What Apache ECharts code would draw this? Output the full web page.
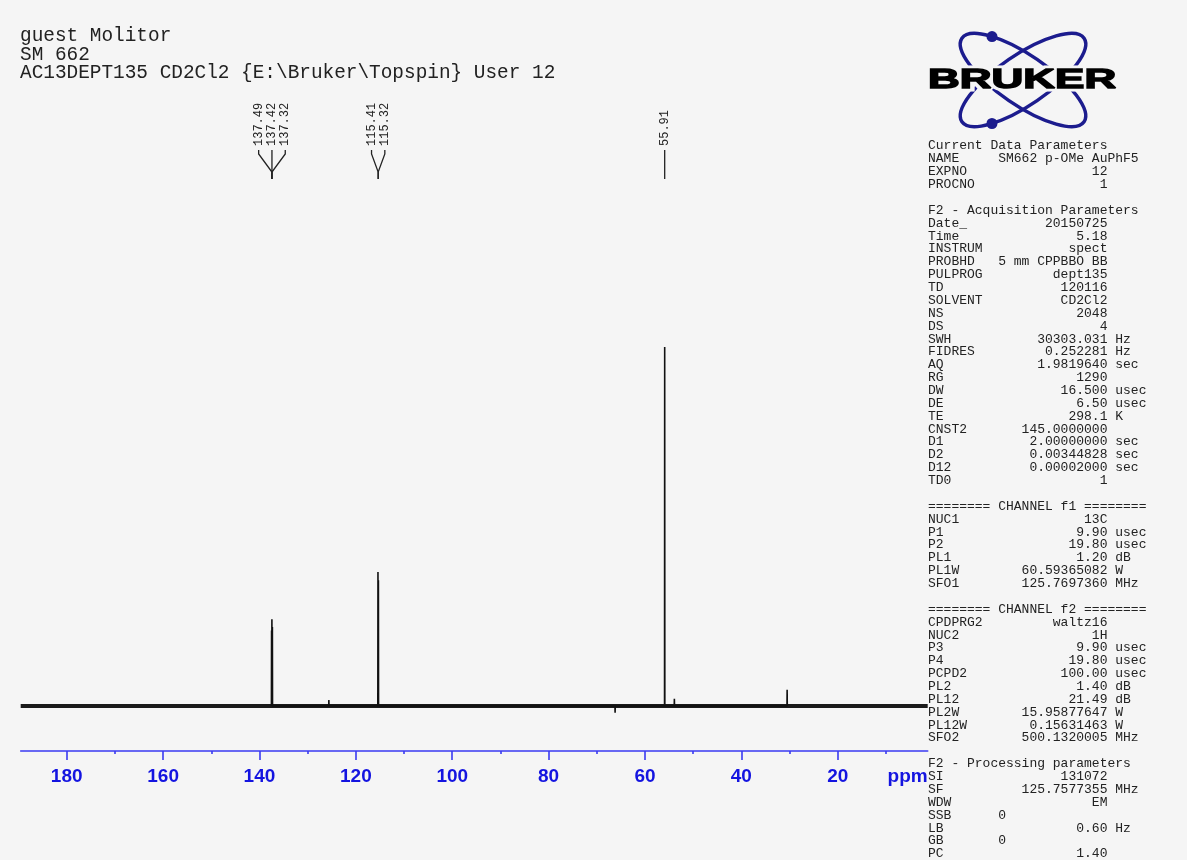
<!DOCTYPE html>
<html><head><meta charset="utf-8">
<script src="https://cdn.jsdelivr.net/npm/echarts@6/dist/echarts.min.js"></script>
<style>html,body{margin:0;padding:0;background:#f5f5f5;}#c{width:1187px;height:860px;}</style>
</head><body><div id="c"></div>
<script>
// ---- data ----
const xMax = 189.55, xMin = 1.33;
const majorTicks = [180, 160, 140, 120, 100, 80, 60, 40, 20];
const minorTicks = [170, 150, 130, 110, 90, 70, 50, 30, 10];
const peakPpm    = [137.49, 137.42, 137.32, 125.6, 115.41, 115.32, 66.2, 55.91, 53.9, 30.5];
const peakHeight = [21, 24.2, 22, 1.7, 37.3, 35, -1.9, 100, 2.0, 4.5];
const labelPpm   = [137.49, 137.42, 137.32, 115.41, 115.32, 55.91];
const headerLines = ['guest Molitor', 'SM 662', 'AC13DEPT135 CD2Cl2 {E:\\Bruker\\Topspin} User 12'];
const paramCurrent = [['NAME','SM662 p-OMe AuPhF5','',1],['EXPNO','12'],['PROCNO','1']];
const paramAcq = [['Date_','20150725'],['Time','5.18'],['INSTRUM','spect'],['PROBHD','5 mm CPPBBO BB'],['PULPROG','dept135'],['TD','120116'],['SOLVENT','CD2Cl2'],['NS','2048'],['DS','4'],['SWH','30303.031','Hz'],['FIDRES','0.252281','Hz'],['AQ','1.9819640','sec'],['RG','1290'],['DW','16.500','usec'],['DE','6.50','usec'],['TE','298.1','K'],['CNST2','145.0000000'],['D1','2.00000000','sec'],['D2','0.00344828','sec'],['D12','0.00002000','sec'],['TD0','1']];
const paramF1 = [['NUC1','13C'],['P1','9.90','usec'],['P2','19.80','usec'],['PL1','1.20','dB'],['PL1W','60.59365082','W'],['SFO1','125.7697360','MHz']];
const paramF2 = [['CPDPRG2','waltz16'],['NUC2','1H'],['P3','9.90','usec'],['P4','19.80','usec'],['PCPD2','100.00','usec'],['PL2','1.40','dB'],['PL12','21.49','dB'],['PL2W','15.95877647','W'],['PL12W','0.15631463','W'],['SFO2','500.1320005','MHz']];
const paramProc = [['SI','131072'],['SF','125.7577355','MHz'],['WDW','EM'],['SSB','0','',1],['LB','0.60','Hz'],['GB','0','',1],['PC','1.40']];

// ---- build ----
function row(r){
  const k = r[0], v = r[1], u = r[2] || '', left = r[3];
  let s = left ? k.padEnd(9, ' ') + v : k.padEnd(Math.max(9, 23 - v.length), ' ') + v;
  if (u) s += ' ' + u;
  return s;
}
const panelLines = ['Current Data Parameters', ...paramCurrent.map(row), '',
  'F2 - Acquisition Parameters', ...paramAcq.map(row), '',
  '======== CHANNEL f1 ========', ...paramF1.map(row), '',
  '======== CHANNEL f2 ========', ...paramF2.map(row), '',
  'F2 - Processing parameters', ...paramProc.map(row)];

const peakData = [];
peakPpm.forEach((p, i) => { peakData.push([p + 0.03, 0], [p, peakHeight[i]], [p - 0.03, 0]); });

const groups = [];
labelPpm.forEach((p, i) => {
  const g = groups[groups.length - 1];
  if (g && Math.abs(g.last - p) < 2) { g.items.push(i); g.last = p; }
  else groups.push({ items: [i], last: p });
});
const labelData = [];
groups.forEach(g => {
  const c = g.items.reduce((s, i) => s + labelPpm[i], 0) / g.items.length;
  g.items.forEach((i, k) => labelData.push([c, 0, k - (g.items.length - 1) / 2, labelPpm[i]]));
});

const BG = '#f5f5f5';
const BLUE_LINE = '#3a3af2';
const BLUE_TEXT = '#1414e0';
const MONO = '"Liberation Mono", "DejaVu Sans Mono", monospace';

function renderLabel(params, api) {
  const c = api.coord([api.value(0), 0])[0];
  const lx = c + api.value(2) * 13.3;
  const txt = Number(api.value(3)).toFixed(2);
  return { type: 'group', children: [
    { type: 'text', x: lx, y: 146, rotation: Math.PI / 2,
      style: { text: txt, font: '12px ' + MONO, fill: '#222', align: 'left', verticalAlign: 'middle' } },
    { type: 'polyline', shape: { points: [[lx, 150], [lx, 154], [c, 172], [c, 179]] },
      style: { stroke: '#222', lineWidth: 1.3, fill: null } }
  ]};
}

// logo
const lcx = 1023, lcy = 80, la = 74, lb = 25, lphi = 0.6;
function ellPoint(t, phi) {
  return [lcx + la * Math.cos(t) * Math.cos(phi) - lb * Math.sin(t) * Math.sin(phi),
          lcy + la * Math.cos(t) * Math.sin(phi) + lb * Math.sin(t) * Math.cos(phi)];
}
function findDot(phi, top) {
  let best = null;
  for (let t = 0; t < Math.PI * 2; t += 0.002) {
    const p = ellPoint(t, phi);
    if ((top && p[1] < lcy) || (!top && p[1] > lcy)) {
      if (!best || Math.abs(p[0] - 992) < Math.abs(best[0] - 992)) best = p;
    }
  }
  return best;
}
const dotTop = findDot(lphi, true), dotBot = findDot(-lphi, false);

const chart = echarts.init(document.getElementById('c'));
const option = {
  backgroundColor: BG,
  animation: false,
  grid: { left: 20.7, right: 1187 - 927.7, top: 347, bottom: 109, containLabel: false, outerBoundsMode: 'none' },
  xAxis: [{
    type: 'value', inverse: true, min: xMin, max: xMax, position: 'bottom',
    axisLine: { show: true, onZero: false, lineStyle: { color: BLUE_LINE, width: 1.6 } },
    axisTick: { show: true, customValues: majorTicks, length: 9, lineStyle: { color: BLUE_LINE, width: 1.6 } },
    axisLabel: { show: true, customValues: majorTicks, margin: 16, color: BLUE_TEXT, fontSize: 19,
      fontWeight: 'bold', fontFamily: '"Liberation Sans", Arial, sans-serif' },
    splitLine: { show: false }
  }, {
    type: 'value', inverse: true, min: xMin, max: xMax, position: 'bottom',
    axisLine: { show: false, onZero: false },
    axisTick: { show: true, customValues: minorTicks, length: 3, lineStyle: { color: BLUE_LINE, width: 1.6 } },
    axisLabel: { show: false },
    splitLine: { show: false }
  }],
  yAxis: { type: 'value', min: -12.53, max: 100, show: false },
  series: [
    { type: 'line', xAxisIndex: 0, data: [[xMax, 0], [xMin, 0]], showSymbol: false, silent: true,
      lineStyle: { color: '#1a1a1a', width: 4 } },
    { type: 'line', xAxisIndex: 0, data: peakData, showSymbol: false, silent: true, sampling: null,
      lineStyle: { color: '#111', width: 1.6 } },
    { type: 'custom', xAxisIndex: 0, data: labelData, renderItem: renderLabel, clip: false, silent: true,
      encode: { x: 0, y: 1 } }
  ],
  graphic: [
    { type: 'text', x: 20, y: 26.75, style: { text: headerLines.join('\n'), font: '19.4px ' + MONO,
      lineHeight: 18.5, fill: '#222', align: 'left', verticalAlign: 'top' } },
    { type: 'text', x: 928, y: 139.6, style: { text: panelLines.join('\n'), font: '13px ' + MONO,
      lineHeight: 12.87, fill: '#222', align: 'left', verticalAlign: 'top' } },
    { type: 'ellipse', x: lcx, y: lcy, rotation: lphi, shape: { cx: 0, cy: 0, rx: la, ry: lb },
      style: { stroke: '#1c1c8e', lineWidth: 3.5, fill: null } },
    { type: 'ellipse', x: lcx, y: lcy, rotation: -lphi, shape: { cx: 0, cy: 0, rx: la, ry: lb },
      style: { stroke: '#1c1c8e', lineWidth: 3.5, fill: null } },
    { type: 'circle', shape: { cx: dotTop[0], cy: dotTop[1], r: 5.5 }, style: { fill: '#1c1c8e' } },
    { type: 'circle', shape: { cx: dotBot[0], cy: dotBot[1], r: 5.5 }, style: { fill: '#1c1c8e' } },
    { type: 'text', x: 928, y: 80, scaleX: 1.6, style: { text: 'BRUKER', font: 'bold 27.5px "Liberation Sans", Arial, sans-serif',
      fill: BG, stroke: BG, lineWidth: 7, align: 'left', verticalAlign: 'middle' } },
    { type: 'text', x: 928, y: 80, scaleX: 1.6, style: { text: 'BRUKER', font: 'bold 27.5px "Liberation Sans", Arial, sans-serif',
      fill: '#000', stroke: '#000', lineWidth: 1.4, align: 'left', verticalAlign: 'middle' } }
  ]
};
chart.setOption(option);
const axisEnd = chart.convertToPixel({ xAxisIndex: 0 }, xMin);
const axisY = chart.convertToPixel({ yAxisIndex: 0 }, -12.53);
chart.setOption({ graphic: [{ id: 'ppm', type: 'text', x: axisEnd, y: axisY + 26,
  style: { text: 'ppm', font: 'bold 19px "Liberation Sans", Arial, sans-serif', fill: BLUE_TEXT,
    align: 'right', verticalAlign: 'middle' } }] });
</script>
</body></html>
